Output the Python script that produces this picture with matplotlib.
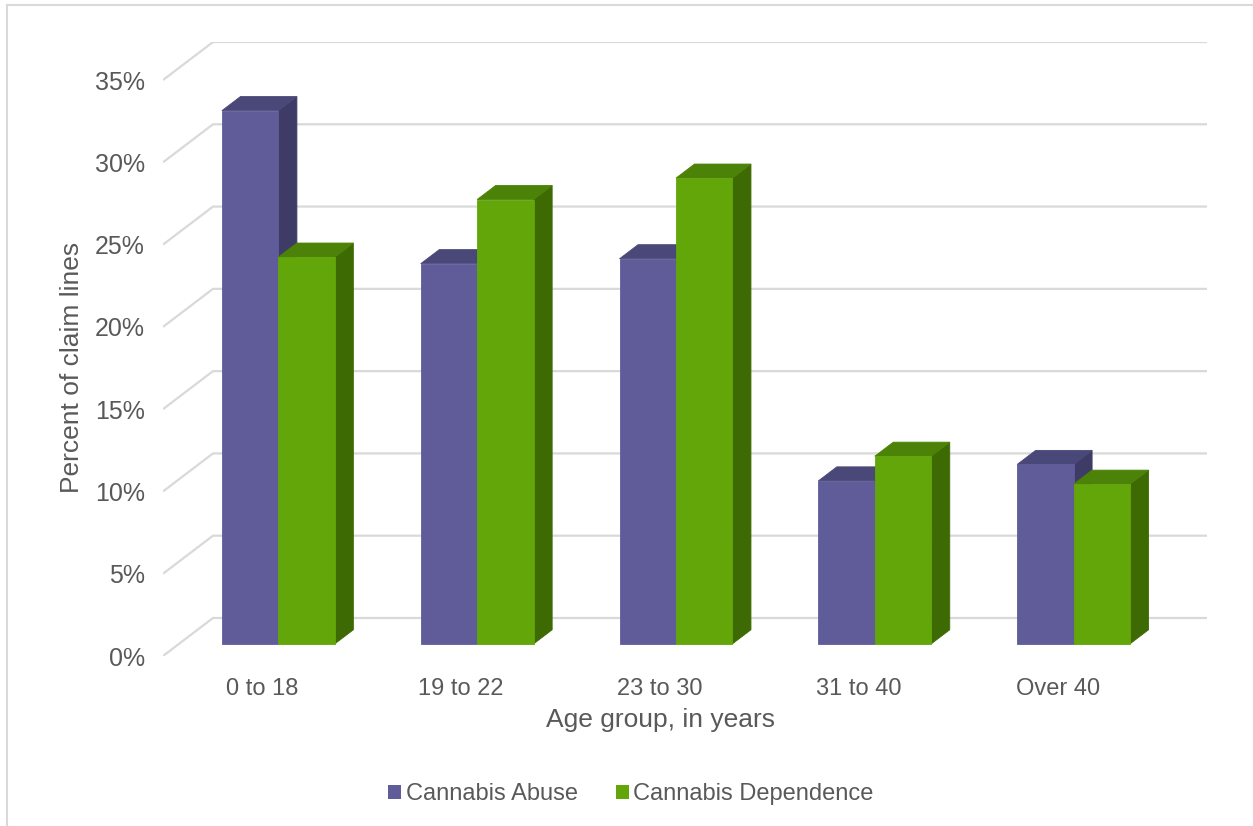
import matplotlib.pyplot as plt
from matplotlib.patches import Polygon, Patch
from matplotlib.lines import Line2D

plt.rcParams['font.family'] = ['Liberation Sans', 'DejaVu Sans']

# data
age_groups = ['0 to 18', '19 to 22', '23 to 30', '31 to 40', 'Over 40']
abuse = [32.4, 23.1, 23.4, 9.9, 10.9]
dependence = [23.5, 27.0, 28.3, 11.4, 9.7]
series_names = ['Cannabis Abuse', 'Cannabis Dependence']
y_ticks = [0, 5, 10, 15, 20, 25, 30, 35]

# colours: front, top, side
purple = ('#605c9a', '#4a4878', '#3e3c66')
green = ('#62a60a', '#4c8207', '#3d6a03')
text_col = '#595959'
grid_col = '#d9d9d9'

# depth of the floor in data units (x in categories, y in percent)
DX = 0.2515
DY = 2.31
ymax = 35
d_front, d_back = 0.32, 0.69  # bar depth as fraction of the floor depth
bar_w = 0.284

W, H = 1253, 826
fig = plt.figure(figsize=(W / 100, H / 100), dpi=100)
ax = fig.add_axes([163 / W, (H - 656) / H, (1207 - 163) / W, (656 - 42) / H])
n = len(age_groups)
ax.set_xlim(0, n + DX)
ax.set_ylim(0, ymax + DY)
for s in ax.spines.values():
    s.set_visible(False)

# back wall grid with the slanted side part
for v in y_ticks:
    ax.plot([0, DX, n + DX], [v, v + DY, v + DY], color=grid_col, lw=1.6,
            solid_capstyle='butt', zorder=1)


def box(x0, h, cols):
    fx, fy = d_front * DX, d_front * DY
    bx, by = d_back * DX, d_back * DY
    xl, xr = x0 + fx, x0 + fx + bar_w
    ddx, ddy = bx - fx, by - fy
    side = [(xr, fy), (xr + ddx, fy + ddy), (xr + ddx, fy + h + ddy), (xr, fy + h)]
    top = [(xl, fy + h), (xl + ddx, fy + h + ddy), (xr + ddx, fy + h + ddy), (xr, fy + h)]
    front = [(xl, fy), (xr, fy), (xr, fy + h), (xl, fy + h)]
    ax.add_patch(Polygon(side, closed=True, fc=cols[2], ec=cols[2], lw=0.6, zorder=3))
    ax.add_patch(Polygon(top, closed=True, fc=cols[1], ec=cols[1], lw=0.6, zorder=3))
    ax.add_patch(Polygon(front, closed=True, fc=cols[0], ec=cols[0], lw=0.6, zorder=3))


gap = (1 - 2 * bar_w) / 2
for i in range(n):
    box(i + gap, abuse[i], purple)
    box(i + gap + bar_w, dependence[i], green)

ax.set_yticks(y_ticks)
ax.set_yticklabels([f'{v}%' for v in y_ticks])
ax.set_xticks([i + 0.5 for i in range(n)])
ax.set_xticklabels(age_groups)
ax.tick_params(axis='both', length=0, labelsize=17, labelcolor=text_col)
ax.tick_params(axis='y', labelsize=18, pad=13)
ax.tick_params(axis='x', pad=16)

fig.text(660 / W, 1 - 720 / H, 'Age group, in years', ha='center', va='center',
         fontsize=19, color=text_col)
fig.text(72 / W, 1 - 367 / H, 'Percent of claim lines', ha='center', va='center',
         rotation=90, fontsize=19, color=text_col)

handles = [Patch(fc=purple[0], ec='none'), Patch(fc=green[0], ec='none')]
fig.legend(handles, series_names, loc='center', bbox_to_anchor=(631 / W, 1 - 794 / H),
           ncol=2, frameon=False, fontsize=17, labelcolor=text_col,
           handlelength=0.55, handleheight=0.55, handletextpad=0.2, columnspacing=1.6)

# chart frame (top and left edge)
fig.add_artist(Line2D([7 / W, 7 / W], [0, 1 - 5 / H], color='#d9d9d9', lw=1.5))
fig.add_artist(Line2D([7 / W, 1252 / W], [1 - 5 / H, 1 - 5 / H], color='#d9d9d9', lw=1.5))

fig.savefig('out.png', dpi=100)
